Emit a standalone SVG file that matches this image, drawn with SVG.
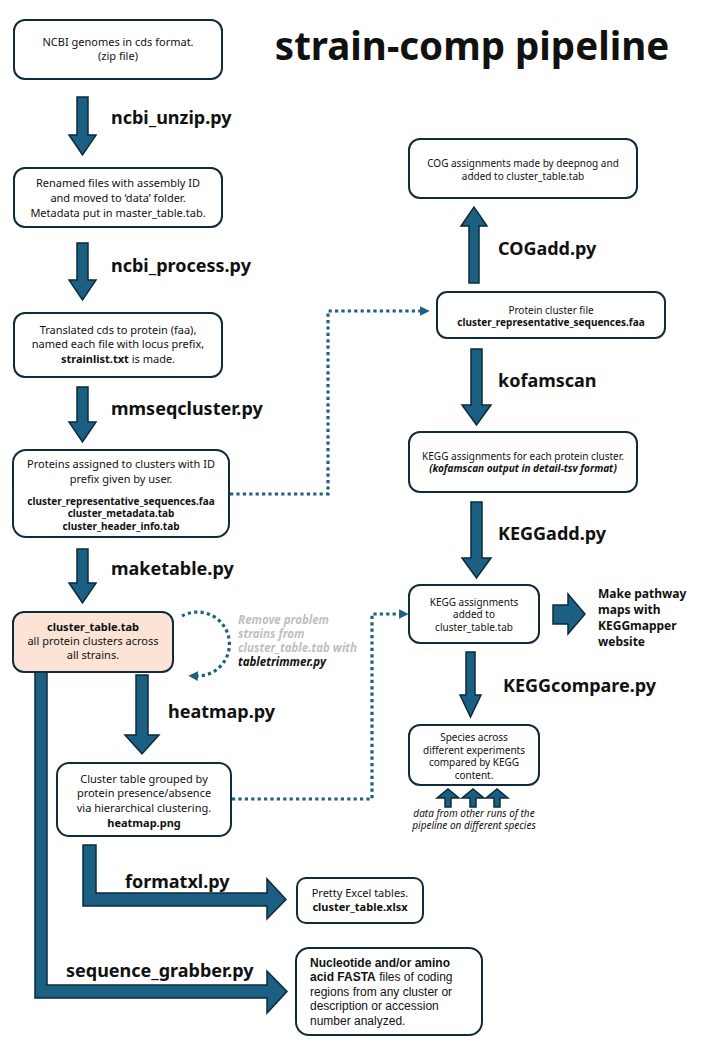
<svg xmlns="http://www.w3.org/2000/svg" width="719" height="1064" viewBox="0 0 719 1064">
<style>
.box{fill:#fff;stroke:#0f2b3c;stroke-width:2}
.peach{fill:#fbe3d6}
.arr{fill:#1b5f82;stroke:#0e2a3a;stroke-width:1.5;stroke-linejoin:miter}
.dot{fill:none;stroke:#1f5f82;stroke-width:3.2;stroke-dasharray:3.2 3.2}
text{font-family:"Noto Sans","Open Sans",sans-serif;fill:#111}
.t{font-size:11px;text-anchor:middle}
.s{font-size:10px;text-anchor:middle}
.b{font-weight:bold}
.lab{font-size:18px;font-weight:bold}
.gr{fill:#bfbfbf;font-size:11.5px;font-weight:bold;font-style:italic}
.nb{font-family:"Liberation Sans",Arial,sans-serif;font-size:12px}
</style>
<defs>
<marker id="ah" viewBox="0 0 10 10" refX="2" refY="5" markerWidth="3" markerHeight="3" orient="auto" markerUnits="strokeWidth">
<path d="M0,0L10,5L0,10z" fill="#1f5f82"/>
</marker>
</defs>
<text x="472" y="60" style="font-size:38.5px;font-weight:bold;text-anchor:middle">strain-comp pipeline</text>

<g id="connectors">
<path class="arr" d="M77,97H88V135H96L82.5,155L69,135H77Z"/>
<path class="arr" d="M77,243H88V280H96L82.5,300L69,280H77Z"/>
<path class="arr" d="M77,387H88V422H96L82.5,442L69,422H77Z"/>
<path class="arr" d="M77,549H88V583H96L82.5,603L69,583H77Z"/>
<path class="arr" d="M136,675H148V735H159L142,754L125,735H136Z"/>
<path class="arr" d="M35,672H47V985H267V971L287,991.5L267,1013V998H35Z"/>
<path class="arr" d="M83,845H96V893H267V879L286,899.5L267,919V906H83Z"/>
<path class="arr" d="M469,283H479V226H487L474,207L461,226H469Z"/>
<path class="arr" d="M471,349H482V405H491L476.5,425L462,405H471Z"/>
<path class="arr" d="M471,502H482V558H491L476.5,578L462,558H471Z"/>
<path class="arr" d="M466,652H475V695H481L470.5,717L460,695H466Z"/>
<path class="arr" d="M553,605H568V594L585,614L568,634V624H553Z"/>
<path class="arr" d="M445,807H451V798H459L448,789L437,798H445Z"/>
<path class="arr" d="M470,807H476V798H484L473,789L462,798H470Z"/>
<path class="arr" d="M494,807H500V798H508L497,789L486,798H494Z"/>
<path class="dot" d="M230,494H328V311H422" marker-end="url(#ah)"/>
<path class="dot" d="M232,799H372V614H401" marker-end="url(#ah)"/>
<path class="dot" d="M182,616A32,32 0 1 1 196,676" marker-end="url(#ah)"/>
</g>

<g id="n1"><rect class="box" x="14" y="20" width="208" height="59" rx="11"/>
<text class="t" x="118" y="46">NCBI genomes in cds format.</text>
<text class="t" x="118" y="60">(zip file)</text></g>
<text class="lab" x="111" y="124">ncbi_unzip.py</text>

<g id="n2"><rect class="box" x="14" y="168" width="208" height="59" rx="11"/>
<text class="t" x="118" y="187">Renamed files with assembly ID</text>
<text class="t" x="118" y="202">and moved to ‘data’ folder.</text>
<text class="t" x="118" y="217">Metadata put in master_table.tab.</text></g>
<text class="lab" x="111" y="272">ncbi_process.py</text>

<g id="n3"><rect class="box" x="14" y="313" width="208" height="64" rx="11"/>
<text class="t" x="118" y="334">Translated cds to protein (faa),</text>
<text class="t" x="118" y="348">named each file with locus prefix,</text>
<text class="t" x="118" y="363"><tspan class="b">strainlist.txt</tspan> is made.</text></g>
<text class="lab" x="111" y="415">mmseqcluster.py</text>

<g id="n4"><rect class="box" x="13" y="450" width="216" height="87" rx="13"/>
<text class="t" x="121" y="468">Proteins assigned to clusters with ID</text>
<text class="t" x="121" y="483">prefix given by user.</text>
<text class="s b" x="121" y="505">cluster_representative_sequences.faa</text>
<text class="s b" x="121" y="517">cluster_metadata.tab</text>
<text class="s b" x="121" y="530">cluster_header_info.tab</text></g>
<text class="lab" x="111" y="575">maketable.py</text>

<g id="n5"><rect class="box peach" x="13" y="612" width="160" height="60" rx="11"/>
<text class="t b" x="93" y="631">cluster_table.tab</text>
<text class="t" x="93" y="645">all protein clusters across</text>
<text class="t" x="93" y="659">all strains.</text></g>
<text class="gr" x="238" y="624">Remove problem</text>
<text class="gr" x="238" y="638">strains from</text>
<text class="gr" x="238" y="652">cluster_table.tab with</text>
<text class="gr" x="238" y="666" style="fill:#111">tabletrimmer.py</text>
<text class="lab" x="168" y="718">heatmap.py</text>

<g id="n6"><rect class="box" x="57" y="763" width="174" height="73" rx="12"/>
<text class="t" x="144" y="783">Cluster table grouped by</text>
<text class="t" x="144" y="797">protein presence/absence</text>
<text class="t" x="144" y="812">via hierarchical clustering.</text>
<text class="t b" x="144" y="827">heatmap.png</text></g>
<text class="lab" x="125" y="888">formatxl.py</text>

<g id="n7"><rect class="box" x="297" y="878" width="126" height="45" rx="9"/>
<text class="t" x="360" y="897">Pretty Excel tables.</text>
<text class="t b" x="360" y="911">cluster_table.xlsx</text></g>
<text class="lab" x="66" y="977">sequence_grabber.py</text>

<g id="n8"><rect class="box" x="296" y="948" width="186" height="87" rx="13"/>
<text class="nb b" x="310" y="967">Nucleotide and/or amino</text>
<text class="nb" x="310" y="981"><tspan class="b">acid FASTA</tspan> files of coding</text>
<text class="nb" x="310" y="996">regions from any cluster or</text>
<text class="nb" x="310" y="1010">description or accession</text>
<text class="nb" x="310" y="1025">number analyzed.</text></g>

<g id="r1"><rect class="box" x="409" y="139" width="228" height="59" rx="11"/>
<text class="s" x="523" y="167">COG assignments made by deepnog and</text>
<text class="s" x="523" y="180">added to cluster_table.tab</text></g>
<text class="lab" x="498" y="255">COGadd.py</text>

<g id="r2"><rect class="box" x="437" y="292" width="228" height="46" rx="10"/>
<text class="s" x="551" y="314">Protein cluster file</text>
<text class="s b" x="551" y="326">cluster_representative_sequences.faa</text></g>
<text class="lab" x="498" y="387">kofamscan</text>

<g id="r3"><rect class="box" x="409" y="432" width="228" height="60" rx="11"/>
<text class="s" x="523" y="460">KEGG assignments for each protein cluster.</text>
<text class="s b" x="523" y="472" style="font-style:italic">(kofamscan output in detail-tsv format)</text></g>
<text class="lab" x="498" y="540">KEGGadd.py</text>

<g id="r4"><rect class="box" x="409" y="585" width="130" height="58" rx="11"/>
<text class="s" x="474" y="606">KEGG assignments</text>
<text class="s" x="474" y="618">added to</text>
<text class="s" x="474" y="631">cluster_table.tab</text></g>
<text x="598" y="598" style="font-size:12px;font-weight:bold">Make pathway</text>
<text x="598" y="614" style="font-size:12px;font-weight:bold">maps with</text>
<text x="598" y="630" style="font-size:12px;font-weight:bold">KEGGmapper</text>
<text x="598" y="646" style="font-size:12px;font-weight:bold">website</text>
<text class="lab" x="503" y="692">KEGGcompare.py</text>

<g id="r5"><rect class="box" x="409" y="725" width="130" height="60" rx="11"/>
<text class="s" x="474" y="741">Species across</text>
<text class="s" x="474" y="754">different experiments</text>
<text class="s" x="474" y="766">compared by KEGG</text>
<text class="s" x="474" y="779">content.</text></g>
<text class="s" x="474" y="817" style="font-style:italic">data from other runs of the</text>
<text class="s" x="474" y="829" style="font-style:italic">pipeline on different species</text>
</svg>
